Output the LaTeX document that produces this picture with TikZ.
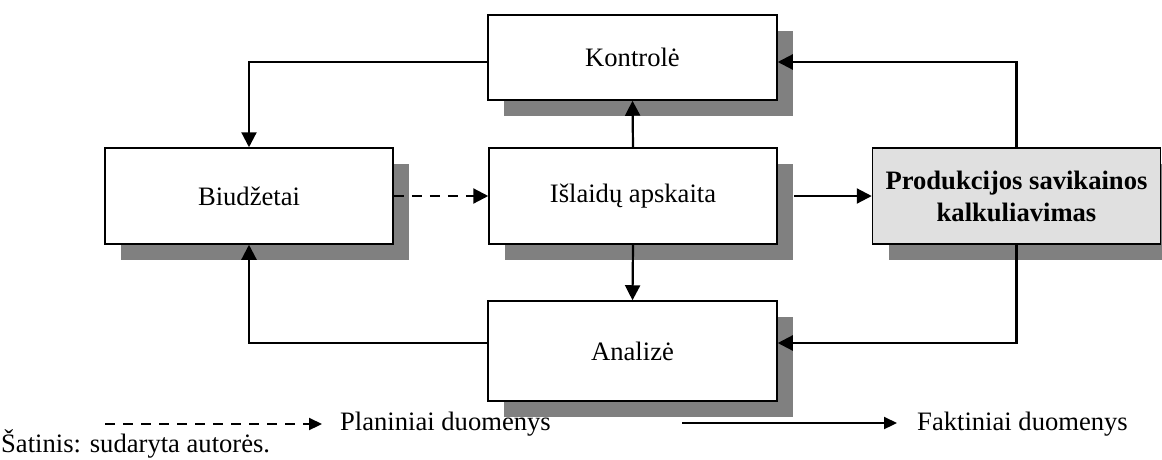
\documentclass[tikz,border=0pt]{standalone}
\usepackage{fontspec}
\setmainfont{Liberation Serif}
\usetikzlibrary{arrows.meta,shadows}
\definecolor{shadowgray}{HTML}{808080}
\definecolor{costfill}{HTML}{E0E0E0}
\begin{document}
\begin{tikzpicture}[x=1pt,y=-1pt,
  font=\fontsize{26.6pt}{32pt}\selectfont,
  box/.style={draw=black,line width=1.5pt,fill=white,inner sep=0pt,
    align=center,
    drop shadow={shadow xshift=16pt,shadow yshift=-16pt,fill=shadowgray,opacity=1}},
  flow/.style={line width=2.2pt,-{Triangle[length=15pt,width=15pt]}},
  plan/.style={flow,dash pattern=on 10pt off 8pt},
  legendflow/.style={line width=2.2pt,-{Triangle[length=13pt,width=12pt]}},
  legendplan/.style={legendflow,dash pattern=on 10pt off 8pt},
  label/.style={inner sep=0pt,anchor=base west}]
\useasboundingbox (0,0) rectangle (1162,459);

% boxes
\node[box,minimum width=289pt,minimum height=85pt] (kontrole) at (632.5,57.5) {Kontrolė};
\node[box,minimum width=288pt,minimum height=96pt] (biudzetai) at (249,196) {Biudžetai};
\node[box,minimum width=288pt,minimum height=96pt] (islaidos) at (633,196) {Išlaidų apskaita};
\node[box,fill=costfill,minimum width=288pt,minimum height=96pt,font=\fontsize{26.6pt}{32pt}\selectfont\bfseries] (kalk) at (1016.5,196) {Produkcijos savikainos\\kalkuliavimas};
\node[box,minimum width=289pt,minimum height=100pt] (analize) at (632.5,351) {Analizė};

% flows between the boxes
\draw[flow] ([yshift=-4.5pt]kontrole.west) -| (biudzetai.north);
\draw[flow] (islaidos.north) -- (kontrole.south);
\draw[flow] (islaidos.south) -- (analize.north);
\draw[plan] (biudzetai.east) -- (islaidos.west);
\draw[flow] ([xshift=16pt]islaidos.east) -- (kalk.west);
\draw[flow] (kalk.north) |- ([yshift=-4.5pt]kontrole.east);
\draw[flow] (kalk.south) |- ([yshift=8pt]analize.east);
\draw[flow] ([yshift=8pt]analize.west) -| (biudzetai.south);

% legend
\coordinate (p1) at (105,424);
\coordinate (p2) at (322,424);
\coordinate (f1) at (682,423);
\coordinate (f2) at (897,423);
\draw[legendplan] (p1) -- (p2);
\draw[legendflow] (f1) -- (f2);
\node[label] (plantxt) at (340,430) {Planiniai duomenys};
\node[label] (facttxt) at (917,430) {Faktiniai duomenys};
\node[label] (source) at (1,452) {Šatinis: sudaryta autorės.};
\end{tikzpicture}
\end{document}
